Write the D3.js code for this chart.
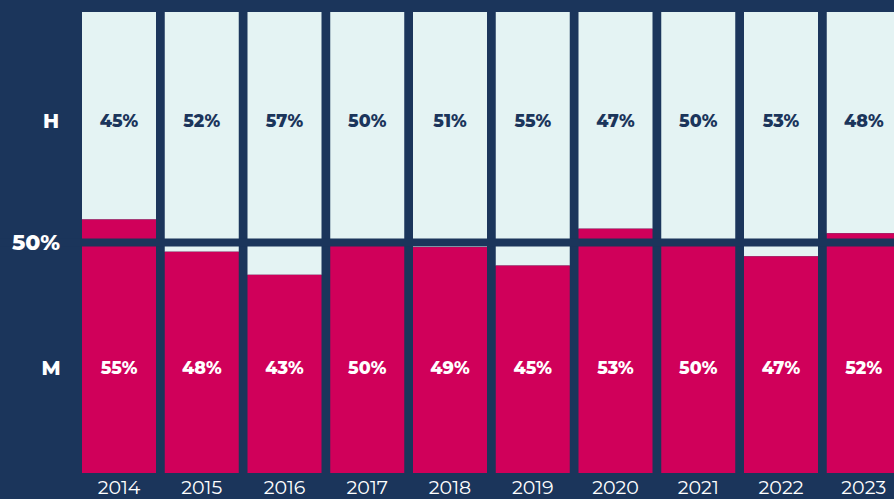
<!DOCTYPE html>
<meta charset="utf-8">
<style>
body { margin: 0; background: #1b355b; }
svg { display: block; }
.lbl { font-family: Montserrat, Inter, "DejaVu Sans", sans-serif; font-weight: 800; }
.yr { font-family: Montserrat, Inter, "DejaVu Sans", sans-serif; fill: #fff; font-size: 19px; }
</style>
<svg width="894" height="499"></svg>
<script src="https://d3js.org/d3.v7.min.js"></script>
<script>

var years = ["2014", "2015", "2016", "2017", "2018", "2019", "2020", "2021", "2022", "2023"];
var hShare = [45, 52, 57, 50, 51, 55, 47, 50, 53, 48];
var mShare = [55, 48, 43, 50, 49, 45, 53, 50, 47, 52];
var rowNames = ["H", "M"];

var navy = "#1b355b",
    red = "#d0005a",
    light = "#e4f3f3";

var svg = d3.select("svg"),
    width = +svg.attr("width"),
    height = +svg.attr("height");

svg.append("rect").attr("width", width).attr("height", height).attr("fill", navy);

var step = 82.75, gap = 8.75;
var x = d3.scaleBand()
    .domain(years)
    .range([82, 82 + step * years.length - gap])
    .paddingInner(gap / step)
    .paddingOuter(0);

var y = d3.scaleLinear()
    .domain([0, 100])
    .range([473, 12]);

var data = years.map(function(d, i) { return {year: d, h: hShare[i], m: mShare[i]}; });

var bars = svg.append("g").selectAll("g")
  .data(data)
  .enter().append("g");

// top (H) part
bars.append("rect")
    .attr("x", function(d) { return x(d.year); })
    .attr("width", x.bandwidth())
    .attr("y", y(100))
    .attr("height", function(d) { return y(d.m) - y(100); })
    .attr("fill", light);

// bottom (M) part
bars.append("rect")
    .attr("x", function(d) { return x(d.year); })
    .attr("width", x.bandwidth())
    .attr("y", function(d) { return y(d.m); })
    .attr("height", function(d) { return y(0) - y(d.m); })
    .attr("fill", red);

// 50% line
svg.append("rect")
    .attr("x", 0)
    .attr("width", width)
    .attr("y", y(50) - 4)
    .attr("height", 8)
    .attr("fill", navy);

var hY = 121, mY = 368;

bars.append("text")
    .attr("class", "lbl")
    .attr("x", function(d) { return x(d.year) + x.bandwidth() / 2; })
    .attr("y", hY)
    .attr("dy", "0.35em")
    .attr("text-anchor", "middle")
    .attr("font-size", 17.5)
    .attr("fill", navy)
    .text(function(d) { return d.h + "%"; });

bars.append("text")
    .attr("class", "lbl")
    .attr("x", function(d) { return x(d.year) + x.bandwidth() / 2; })
    .attr("y", mY)
    .attr("dy", "0.35em")
    .attr("text-anchor", "middle")
    .attr("font-size", 17.5)
    .attr("fill", "#fff")
    .text(function(d) { return d.m + "%"; });

// row labels
svg.selectAll(".row")
  .data(rowNames)
  .enter().append("text")
    .attr("class", "lbl row")
    .attr("x", 51)
    .attr("y", function(d, i) { return i ? mY : hY; })
    .attr("dy", "0.35em")
    .attr("text-anchor", "middle")
    .attr("font-size", 20)
    .attr("fill", "#fff")
    .text(function(d) { return d; });

svg.append("text")
    .attr("class", "lbl")
    .attr("x", 36)
    .attr("y", y(50))
    .attr("dy", "0.35em")
    .attr("text-anchor", "middle")
    .attr("font-size", 22)
    .attr("fill", "#fff")
    .text("50%");

// year axis
var axis = svg.append("g")
    .attr("transform", "translate(0," + y(0) + ")")
    .call(d3.axisBottom(x).tickSize(0).tickPadding(8));
axis.select(".domain").remove();
axis.selectAll("text").attr("class", "yr").attr("fill", "#fff");

</script>
